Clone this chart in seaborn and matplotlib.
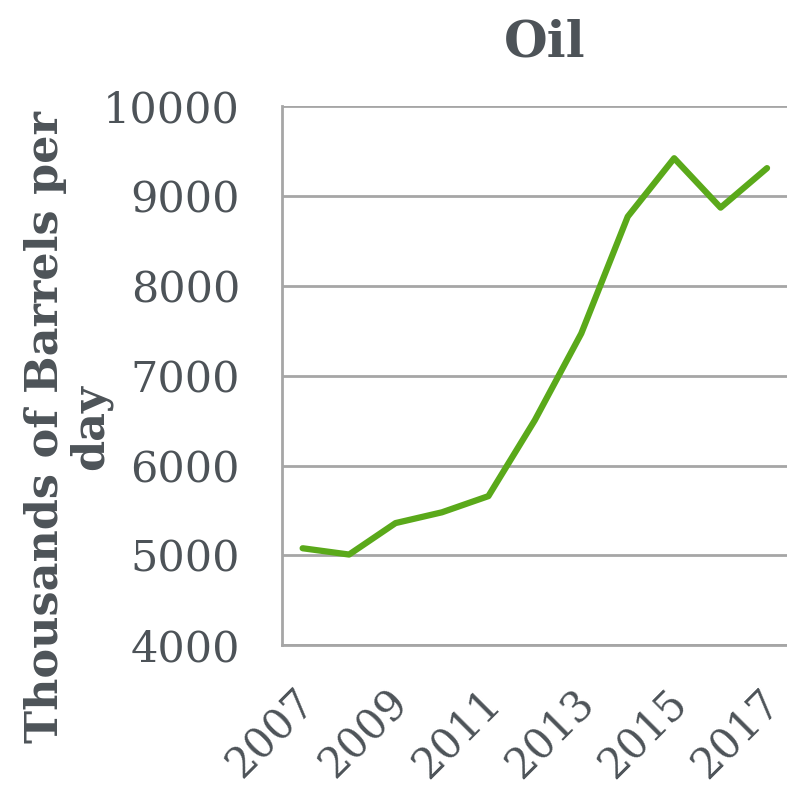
import pandas as pd
import matplotlib
matplotlib.use("Agg")
import matplotlib.pyplot as plt
import matplotlib.transforms as mtransforms
import seaborn as sns

years = [2007, 2008, 2009, 2010, 2011, 2012, 2013, 2014, 2015, 2016, 2017]
barrels = [5080, 5010, 5360, 5480, 5660, 6505, 7470, 8770, 9420, 8870, 9310]
yticks = [4000, 5000, 6000, 7000, 8000, 9000, 10000]
xticks = [2007, 2009, 2011, 2013, 2015, 2017]

df = pd.DataFrame({"year": years, "barrels": barrels})

sns.set_theme(style="white")
plt.rcParams["font.family"] = ["DejaVu Serif"]
text_col = "#4d5358"
grid_col = "#a6a6a6"

fig = plt.figure(figsize=(7.87, 7.86), dpi=100)
ax = fig.add_axes([0.358, 0.179, 0.642, 0.686])

sns.lineplot(data=df, x="year", y="barrels", color="#5aa91a", linewidth=4.5,
             solid_capstyle="round", ax=ax)

ax.set_xlim(2006.55, 2017.43)
ax.set_ylim(4000, 10000)
ax.set_yticks(yticks)
ax.set_xticks(xticks)
ax.set_xticklabels([str(x) for x in xticks], rotation=45, ha="right",
                   rotation_mode="anchor")
ax.tick_params(axis="y", length=0, labelsize=31, colors=text_col, pad=30)
ax.tick_params(axis="x", length=0, labelsize=30, colors=text_col, pad=26)
# nudge the year labels a bit to the left
shift = mtransforms.ScaledTranslation(-0.09, 0, fig.dpi_scale_trans)
for lab in ax.get_xticklabels():
    lab.set_transform(lab.get_transform() + shift)
ax.yaxis.grid(True, color=grid_col, linewidth=2)
ax.set_axisbelow(True)
for s in ["top", "right"]:
    ax.spines[s].set_visible(False)
for s in ["left", "bottom"]:
    ax.spines[s].set_color(grid_col)
    ax.spines[s].set_linewidth(2)

ax.set_xlabel("")
ax.set_ylabel("Thousands of Barrels per\nday", fontsize=32, fontweight="bold",
              color=text_col, linespacing=1.05)
ax.yaxis.set_label_coords(-0.335, 0.405)
ax.set_title("Oil", fontsize=36, fontweight="bold", color=text_col, pad=36,
             x=0.52)

fig.savefig("out.png", dpi=100)
